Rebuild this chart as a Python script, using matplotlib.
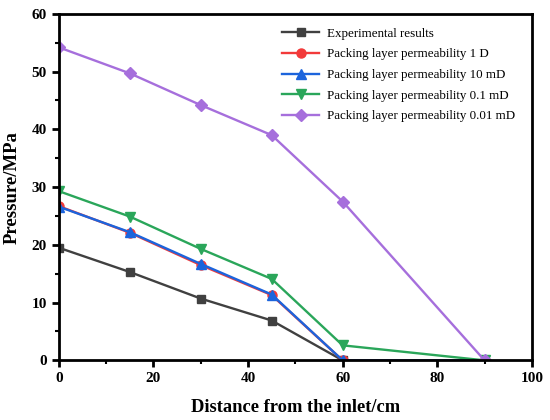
import matplotlib
matplotlib.use("Agg")
import matplotlib.pyplot as plt
from matplotlib.ticker import MultipleLocator

plt.rcParams['font.family'] = ['Liberation Serif', 'DejaVu Serif']

x_exp = [0, 15, 30, 45, 60]
y_exp = [19.5, 15.3, 10.7, 6.9, 0.0]
x_sim = [0, 15, 30, 45, 60, 90]
y_1D = [26.7, 22.1, 16.5, 11.3, 0.0, 0.0]
y_10mD = [26.6, 22.2, 16.7, 11.4, 0.0, 0.0]
y_01mD = [29.3, 24.9, 19.3, 14.1, 2.6, 0.0]
y_001mD = [54.2, 49.7, 44.2, 39.0, 27.5, 0.0]

labels = ["Experimental results",
          "Packing layer permeability 1 D",
          "Packing layer permeability 10 mD",
          "Packing layer permeability 0.1 mD",
          "Packing layer permeability 0.01 mD"]

fig = plt.figure(figsize=(5.5, 4.2), dpi=100)
ax = fig.add_axes([0.107, 0.142, 0.860, 0.825])

lw = 1.7
ax.plot(x_exp, y_exp, color='#404040', marker='s', ms=6, lw=lw, label=labels[0])
ax.plot(x_sim, y_1D, color='#f23a3a', marker='o', ms=6.5, lw=lw, label=labels[1])
ax.plot(x_sim, y_10mD, color='#1c64dc', marker='^', ms=7, lw=lw, label=labels[2])
ax.plot(x_sim, y_01mD, color='#2aa65a', marker='v', ms=7, lw=lw, label=labels[3])
ax.plot(x_sim, y_001mD, color='#a66fdc', marker='D', ms=6, lw=lw, label=labels[4])

ax.set_xlim(0, 100)
ax.set_ylim(0, 60)
ax.xaxis.set_major_locator(MultipleLocator(20))
ax.xaxis.set_minor_locator(MultipleLocator(10))
ax.yaxis.set_major_locator(MultipleLocator(10))
ax.yaxis.set_minor_locator(MultipleLocator(5))
ax.tick_params(which='major', direction='out', length=5, width=2, labelsize=11)
ax.tick_params(which='minor', direction='out', length=3, width=1.5)
for lab in ax.get_xticklabels() + ax.get_yticklabels():
    lab.set_fontweight('bold')
for s in ax.spines.values():
    s.set_linewidth(2)

ax.set_xlabel("Distance from the inlet/cm", fontsize=13.3, fontweight='bold', labelpad=10)
ax.set_ylabel("Pressure/MPa", fontsize=13.5, fontweight='bold', labelpad=8)

leg = ax.legend(loc='upper left', bbox_to_anchor=(0.471, 0.960), frameon=False,
                fontsize=9.4, handlelength=2.9, handletextpad=0.6,
                borderpad=0, borderaxespad=0, labelspacing=0.65)

fig.savefig("out.png", dpi=100)
